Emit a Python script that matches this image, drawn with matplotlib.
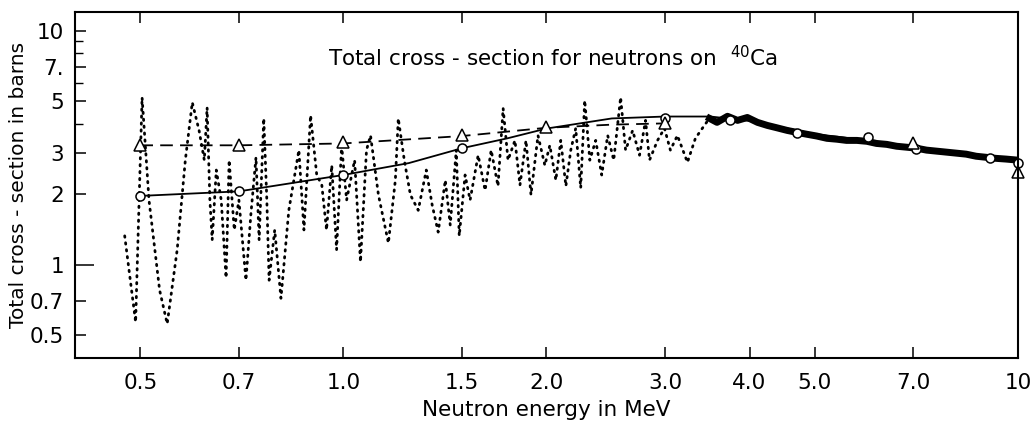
import numpy as np
import matplotlib
matplotlib.use('Agg')
from matplotlib import pyplot as plt
from matplotlib import font_manager
from matplotlib.ticker import FixedLocator, NullFormatter

# narrow font if we have it, otherwise plain DejaVu
avail = {f.name for f in font_manager.fontManager.ttflist}
FONT = 'Liberation Sans Narrow' if 'Liberation Sans Narrow' in avail else 'DejaVu Sans'
plt.rcParams['font.family'] = FONT
plt.rcParams['mathtext.fontset'] = 'custom'
plt.rcParams['mathtext.rm'] = FONT

# high resolution measurement (MeV, barns), resonance region
res_energy = [0.474, 0.492, 0.503, 0.515, 0.534, 0.548, 0.567, 0.583, 0.597, 0.611,
              0.622, 0.628, 0.634, 0.639, 0.648, 0.659, 0.670, 0.677, 0.689, 0.700,
              0.717, 0.729, 0.742, 0.750, 0.762, 0.770, 0.776, 0.791, 0.808, 0.830,
              0.859, 0.874, 0.894, 0.913, 0.929, 0.944, 0.961, 0.977, 0.994, 1.011,
              1.039, 1.060, 1.082, 1.097, 1.127, 1.166, 1.194, 1.206, 1.231, 1.257,
              1.291, 1.327, 1.354, 1.382, 1.416, 1.440, 1.470, 1.485, 1.515, 1.541,
              1.584, 1.622, 1.656, 1.695, 1.725, 1.754, 1.796, 1.827, 1.865, 1.897,
              1.943, 1.989, 2.023, 2.065, 2.100, 2.137, 2.173, 2.210, 2.248, 2.279,
              2.319, 2.366, 2.415, 2.465, 2.516, 2.576, 2.620, 2.684, 2.748, 2.805,
              2.843, 2.922, 2.992, 3.053, 3.127, 3.236, 3.325, 3.405, 3.487]
res_sigma = [1.33, 0.57, 5.19, 1.89, 0.78, 0.56, 1.16, 2.80, 4.94, 3.75,
             2.80, 4.70, 1.89, 1.28, 2.54, 1.89, 0.88, 2.80, 1.41, 1.89,
             0.86, 1.63, 2.88, 1.28, 4.22, 1.89, 0.86, 1.41, 0.72, 1.71,
             3.09, 1.41, 4.35, 2.42, 2.19, 1.41, 2.66, 1.16, 3.24, 1.89,
             2.80, 1.03, 3.09, 3.57, 1.99, 1.24, 2.30, 4.22, 2.80, 1.99,
             1.71, 2.54, 1.80, 1.38, 2.30, 1.48, 3.09, 1.33, 2.42, 1.89,
             2.94, 2.08, 3.09, 2.17, 4.66, 2.80, 3.40, 2.19, 3.40, 1.99,
             3.57, 2.66, 3.24, 2.30, 3.40, 2.17, 3.09, 3.83, 2.13, 5.04,
             2.80, 3.40, 2.42, 3.57, 2.80, 5.19, 3.09, 3.75, 2.94, 4.14,
             2.80, 3.40, 3.83, 3.09, 3.57, 2.74, 3.47, 3.83, 4.22]

# same measurement above 3.5 MeV, where it is a dense band
band_energy = [3.49, 3.58, 3.71, 3.84, 3.97, 4.11, 4.25, 4.39, 4.55, 4.70, 4.87,
               5.03, 5.21, 5.39, 5.57, 5.77, 5.97, 6.17, 6.39, 6.61, 6.84, 7.07,
               7.32, 7.57, 7.83, 8.10, 8.38, 8.67, 8.97, 9.28, 9.60, 10.0]
band_sigma = [4.22, 4.06, 4.31, 4.14, 4.26, 4.06, 3.94, 3.85, 3.75, 3.68, 3.61,
              3.55, 3.47, 3.44, 3.40, 3.40, 3.37, 3.30, 3.27, 3.21, 3.18, 3.15,
              3.09, 3.06, 3.03, 3.00, 2.97, 2.91, 2.88, 2.85, 2.83, 2.80]

# averaged cross-section (solid line, circles)
avg_energy = [0.5, 0.7, 1.0, 1.25, 1.5, 1.75, 2.0, 2.5, 3.0, 3.5, 4.0, 4.5, 5.0,
              6.0, 7.0, 8.5, 10.0]
avg_sigma = [1.97, 2.06, 2.42, 2.72, 3.15, 3.47, 3.82, 4.22, 4.30, 4.30, 4.12,
             3.85, 3.62, 3.40, 3.18, 2.95, 2.76]
circ_energy = [0.5, 0.7, 1.0, 1.5, 3.0, 3.74, 4.7, 6.0, 7.07, 9.1, 10.0]
circ_sigma = [1.97, 2.06, 2.42, 3.15, 4.22, 4.14, 3.65, 3.50, 3.12, 2.86, 2.72]

# optical model values (dashed line, triangles)
opt_energy = [0.5, 0.7, 1.0, 1.5, 2.0, 2.5, 3.0]
opt_sigma = [3.24, 3.24, 3.30, 3.55, 3.85, 3.97, 4.02]
tri_energy = [0.5, 0.7, 1.0, 1.5, 2.0, 3.0, 7.0, 10.0]
tri_sigma = [3.24, 3.24, 3.34, 3.57, 3.87, 4.02, 3.30, 2.49]

xticks = [0.5, 0.7, 1.0, 1.5, 2.0, 3.0, 4.0, 5.0, 7.0, 10.0]
xticklabels = ['0.5', '0.7', '1.0', '1.5', '2.0', '3.0', '4.0', '5.0', '7.0', '10']
yticks = [0.5, 0.7, 1, 2, 3, 5, 7, 10]
yticklabels = ['0.5', '0.7', '1', '2', '3', '5', '7.', '10']
yminor = [4, 6, 8, 9]

fig = plt.figure(figsize=(10.34, 4.34), dpi=100)
ax = fig.add_axes([0.0725, 0.175, 0.912, 0.797])
ax.set_xscale('log')
ax.set_yscale('log')
ax.set_xlim(0.4, 10.0)
ax.set_ylim(0.4, 12.0)

ax.plot(res_energy, res_sigma, color='black', lw=2.0, ls=(0, (0.5, 2.0)),
        solid_capstyle='round', dash_capstyle='round')
ax.plot(band_energy, band_sigma, color='black', lw=5, solid_joinstyle='round')

ax.plot(avg_energy, avg_sigma, color='black', lw=1.3)
ax.plot(opt_energy, opt_sigma, color='black', lw=1.3, ls=(0, (7, 4)))
ax.plot(circ_energy, circ_sigma, ls='none', marker='o', ms=6.5, mfc='white',
        mec='black', mew=1.1, clip_on=False)
ax.plot(tri_energy, tri_sigma, ls='none', marker='^', ms=8, mfc='white',
        mec='black', mew=1.1, clip_on=False)

ax.xaxis.set_major_locator(FixedLocator(xticks))
ax.set_xticklabels(xticklabels)
ax.xaxis.set_minor_locator(FixedLocator([]))
ax.yaxis.set_major_locator(FixedLocator(yticks))
ax.set_yticklabels(yticklabels)
ax.yaxis.set_minor_locator(FixedLocator(yminor))
ax.yaxis.set_minor_formatter(NullFormatter())

ax.tick_params(axis='x', which='major', direction='in', length=8, width=1.1,
               top=True, bottom=True, labelsize=15.5, pad=11)
ax.tick_params(axis='y', which='major', direction='in', length=8, width=1.1,
               left=True, right=False, labelsize=15.5, pad=8)
ax.tick_params(axis='y', which='minor', direction='in', length=6, width=1.0,
               left=True, right=False)
# the unit tick is drawn longer
ax.yaxis.get_major_ticks()[2].tick1line.set_markersize(14)
for sp in ax.spines.values():
    sp.set_linewidth(1.5)

ax.text(0.268, 0.87, 'Total cross - section for neutrons on  $^{40}$Ca',
        transform=ax.transAxes, fontsize=15.5, ha='left', va='center')
ax.set_xlabel('Neutron energy in MeV', fontsize=15.5)
ax.xaxis.set_label_coords(0.5, -0.12)
ax.set_ylabel('Total cross - section in barns', fontsize=14.5)
ax.yaxis.set_label_coords(-0.05, 0.5)

fig.savefig('out.png', dpi=100, facecolor='white')
